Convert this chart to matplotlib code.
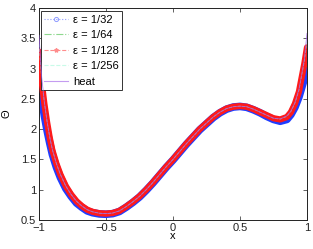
import matplotlib
matplotlib.use('Agg')
import matplotlib.pyplot as plt
from matplotlib.lines import Line2D

plt.rcParams['font.family'] = ['Liberation Sans', 'DejaVu Sans']

# values
x = [-1, -0.98, -0.96, -0.94, -0.92, -0.9, -0.87, -0.84, -0.8, -0.76, -0.72, -0.68,
     -0.64, -0.6, -0.55, -0.5, -0.45, -0.4, -0.35, -0.3, -0.25, -0.2, -0.15, -0.1,
     -0.05, 0, 0.05, 0.1, 0.15, 0.2, 0.25, 0.3, 0.35, 0.4, 0.45, 0.5, 0.55, 0.6,
     0.65, 0.7, 0.75, 0.8, 0.85, 0.88, 0.91, 0.94, 0.96, 0.98, 1]

eps_32 = [2.8, 2.5, 2.22, 1.98, 1.77, 1.58, 1.37, 1.2, 1.02, 0.89, 0.78, 0.71,
          0.65, 0.62, 0.6, 0.595, 0.605, 0.64, 0.71, 0.79, 0.88, 0.99, 1.11, 1.24,
          1.37, 1.49, 1.62, 1.75, 1.87, 1.99, 2.09, 2.19, 2.27, 2.33, 2.365, 2.375, 2.36, 2.32,
          2.27, 2.21, 2.16, 2.13, 2.16, 2.24, 2.36, 2.53, 2.68, 2.83, 2.97]

eps_64 = [3.1, 2.68, 2.36, 2.08, 1.83, 1.63, 1.41, 1.24, 1.05, 0.91, 0.8, 0.72,
          0.66, 0.63, 0.61, 0.6, 0.61, 0.645, 0.715, 0.795, 0.885, 0.995, 1.115, 1.245,
          1.375, 1.495, 1.625, 1.755, 1.875, 1.995, 2.095, 2.195, 2.275, 2.335, 2.365, 2.375, 2.365, 2.325,
          2.275, 2.22, 2.17, 2.15, 2.19, 2.27, 2.4, 2.59, 2.8, 3.0, 3.2]

eps_128 = [3.28, 2.78, 2.42, 2.12, 1.86, 1.65, 1.43, 1.25, 1.06, 0.92, 0.81, 0.73,
           0.67, 0.635, 0.612, 0.605, 0.615, 0.65, 0.72, 0.8, 0.89, 1.0, 1.12, 1.25,
           1.38, 1.5, 1.63, 1.76, 1.88, 2.0, 2.1, 2.2, 2.28, 2.34, 2.37, 2.38, 2.37, 2.33,
           2.28, 2.23, 2.18, 2.16, 2.2, 2.28, 2.42, 2.62, 2.85, 3.08, 3.35]

eps_256 = [3.4, 2.82, 2.44, 2.13, 1.87, 1.66, 1.43, 1.25, 1.06, 0.92, 0.81, 0.73,
           0.67, 0.635, 0.612, 0.605, 0.615, 0.65, 0.72, 0.8, 0.89, 1.0, 1.12, 1.25,
           1.38, 1.5, 1.63, 1.76, 1.88, 2.0, 2.1, 2.2, 2.28, 2.34, 2.37, 2.38, 2.37, 2.33,
           2.28, 2.23, 2.18, 2.165, 2.21, 2.29, 2.43, 2.64, 2.88, 3.12, 3.45]

heat = [3.55, 2.86, 2.45, 2.13, 1.87, 1.66, 1.43, 1.25, 1.06, 0.92, 0.81, 0.73,
        0.67, 0.635, 0.612, 0.605, 0.615, 0.65, 0.72, 0.8, 0.89, 1.0, 1.12, 1.25,
        1.38, 1.5, 1.63, 1.76, 1.88, 2.0, 2.1, 2.2, 2.28, 2.34, 2.37, 2.38, 2.37, 2.33,
        2.28, 2.23, 2.18, 2.17, 2.22, 2.3, 2.44, 2.66, 2.9, 3.15, 3.58]

labels = ['ε = 1/32', 'ε = 1/64', 'ε = 1/128', 'ε = 1/256', 'heat']

fig = plt.figure(figsize=(3.13, 2.49), dpi=100)
ax = fig.add_axes([0.1246, 0.1165, 0.8562, 0.8514])

# the dense markers of the original show up as thick bands
ax.plot(x, eps_32, color='#1f3dff', lw=5.5, solid_capstyle='round',
        solid_joinstyle='round', zorder=2)
ax.plot(x, eps_64, color='#30b030', lw=1.0, ls='-.', zorder=3)
ax.plot(x, eps_128, color='#ff1a1a', lw=4.5, solid_capstyle='round',
        solid_joinstyle='round', zorder=4)
ax.plot(x, eps_256, color='#90f0d0', lw=0.6, ls='--', alpha=0.6, zorder=5)
ax.plot(x, heat, color='#a060e8', lw=0.6, alpha=0.8, zorder=6)

ax.set_xlim(-1, 1)
ax.set_ylim(0.5, 4)
ax.set_xticks([-1, -0.5, 0, 0.5, 1])
ax.set_xticklabels(['\u22121', '\u22120.5', '0', '0.5', '1'])
ax.set_yticks([0.5, 1, 1.5, 2, 2.5, 3, 3.5, 4])
ax.set_yticklabels(['0.5', '1', '1.5', '2', '2.5', '3', '3.5', '4'])
ax.tick_params(direction='in', top=True, right=True, length=3, width=0.5,
               labelsize=8, pad=2, colors='#222222')
for s in ax.spines.values():
    s.set_linewidth(0.7)
    s.set_color('#222222')

ax.set_xlabel('x', fontsize=8, labelpad=-1)
ax.set_ylabel('\u0398', fontsize=8, labelpad=7)

handles = [
    Line2D([], [], color='#8f9cff', ls=':', marker='o', mfc='none', ms=3, mew=0.7, lw=0.8),
    Line2D([], [], color='#8ed88e', ls='-.', lw=0.8),
    Line2D([], [], color='#ff8c8c', ls='--', marker='*', ms=3, lw=0.8),
    Line2D([], [], color='#c8fbe8', ls='--', lw=0.8),
    Line2D([], [], color='#c49cf0', lw=0.8),
]
leg = ax.legend(handles, labels, loc='upper left', bbox_to_anchor=(0.006, 0.985),
                fontsize=8, frameon=True, fancybox=False, framealpha=1,
                borderaxespad=0, handlelength=2.2, handletextpad=0.4,
                labelspacing=0.5, borderpad=0.3)
leg.get_frame().set_edgecolor('#333333')
leg.get_frame().set_linewidth(0.7)

fig.savefig('out.png', dpi=100)
